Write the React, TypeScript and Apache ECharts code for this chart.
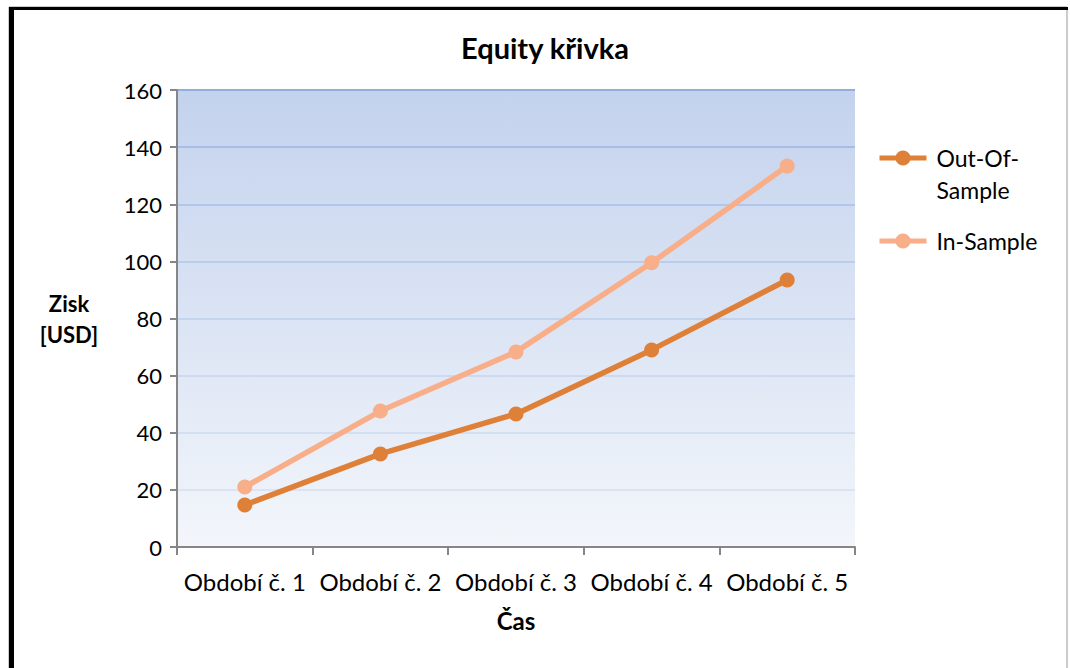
import React, { useEffect, useRef } from "react";
import * as echarts from "echarts";

const categories = ["Období č. 1", "Období č. 2", "Období č. 3", "Období č. 4", "Období č. 5"];
const outOfSample = [14.7, 32.6, 46.6, 69.0, 93.5];
const inSample = [21.0, 47.6, 68.3, 99.5, 133.4];
const seriesNames = ["Out-Of-Sample", "In-Sample"];
const legendLabels: Record<string, string> = { "Out-Of-Sample": " \nOut-Of-\nSample", "In-Sample": "In-Sample" };

const FONT = "Lato, 'Open Sans', sans-serif";

export default function App() {
  const ref = useRef<HTMLDivElement>(null);
  useEffect(() => {
    if (!ref.current) return;
    const chart = echarts.init(ref.current, undefined, { renderer: "svg" });
    const legendBase = {
      orient: "vertical",
      left: 877,
      padding: 0,
      itemWidth: 47,
      itemHeight: 19,
      lineStyle: { width: 5 },
      formatter: (name: string) => legendLabels[name] || name,
      textStyle: { fontFamily: FONT, fontSize: 23, color: "#000", lineHeight: 32, padding: [0, 0, 0, 5] },
    };
    chart.setOption({
      animation: false,
      backgroundColor: "#ffffff",
      textStyle: { fontFamily: FONT },
      title: {
        text: "Equity křivka",
        left: 540,
        top: 28,
        textAlign: "center",
        textStyle: { fontFamily: FONT, fontSize: 29, fontWeight: "bold", color: "#000" },
      },
      grid: {
        left: 177,
        right: 215,
        top: 90,
        bottom: 121,
        show: true,
        borderWidth: 0,
        backgroundColor: new echarts.graphic.LinearGradient(0, 0, 0, 1, [
          { offset: 0, color: "#c3d2ed" },
          { offset: 1, color: "#f3f6fb" },
        ]),
      },
      legend: [
        { ...legendBase, top: 110, data: [seriesNames[0]] },
        { ...legendBase, top: 225, data: [seriesNames[1]] },
      ],
      xAxis: {
        type: "category",
        data: categories,
        boundaryGap: true,
        name: "Čas",
        nameLocation: "middle",
        nameGap: 61,
        nameTextStyle: { fontFamily: FONT, fontSize: 24, fontWeight: "bold", color: "#000" },
        axisLine: { lineStyle: { color: "#868686", width: 2 } },
        axisTick: { show: true, interval: 0, length: 8, lineStyle: { color: "#868686", width: 2 } },
        axisLabel: { interval: 0, hideOverlap: false, fontFamily: FONT, fontSize: 24, color: "#000", margin: 22 },
        splitLine: { show: false },
      },
      yAxis: {
        type: "value",
        min: 0,
        max: 160,
        interval: 20,
        name: "Zisk\n[USD]",
        nameLocation: "middle",
        nameRotate: 0,
        nameGap: 108,
        nameTextStyle: { align: "center", fontFamily: FONT, fontSize: 22, fontWeight: "bold", color: "#000", lineHeight: 31, padding: [5, 0, 0, 0] },
        axisLine: { show: true, lineStyle: { color: "#868686", width: 2 } },
        axisTick: { show: true, length: 7, lineStyle: { color: "#868686", width: 2 } },
        axisLabel: { fontFamily: FONT, fontSize: 22, color: "#000", margin: 15 },
        splitLine: {
          show: true,
          lineStyle: {
            width: 2,
            color: ["#ffffff00", "#dce4f3", "#d5dff2", "#cdd9f0", "#c4d3ee", "#bccced", "#b2c5ea", "#a7bde7", "#92aede"],
          },
        },
      },
      series: [
        {
          name: seriesNames[0],
          type: "line",
          data: outOfSample,
          symbol: "circle",
          symbolSize: 15,
          lineStyle: { color: "#df8038", width: 5.5 },
          itemStyle: { color: "#df8038" },
          z: 3,
        },
        {
          name: seriesNames[1],
          type: "line",
          data: inSample,
          symbol: "circle",
          symbolSize: 15,
          lineStyle: { color: "#f8ae88", width: 5.5 },
          itemStyle: { color: "#f8ae88" },
          z: 2,
        },
      ],
      graphic: [
        { type: "rect", shape: { x: 9, y: 7, width: 1058, height: 670 }, style: { fill: "none", stroke: "#999", lineWidth: 1 }, silent: true },
        { type: "rect", shape: { x: 9, y: 7, width: 5, height: 670 }, style: { fill: "#000" }, silent: true },
        { type: "rect", shape: { x: 9, y: 7, width: 1059, height: 3 }, style: { fill: "#000" }, silent: true },
      ],
    });
    return () => chart.dispose();
  }, []);
  return <div ref={ref} style={{ position: "fixed", left: 0, top: 0, width: 1070, height: 668 }} />;
}
